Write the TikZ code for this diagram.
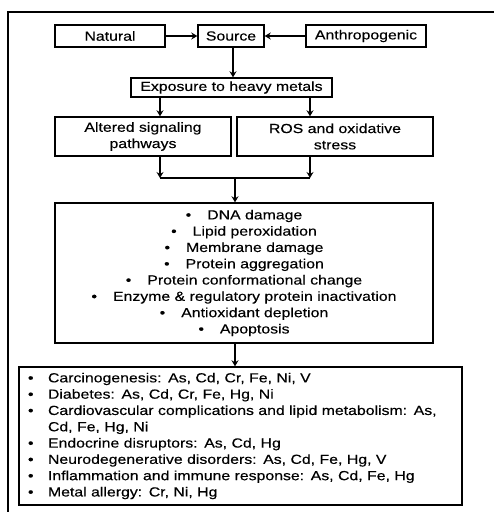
\documentclass[tikz,border=0pt]{standalone}
\usepackage{fontspec}
\setmainfont{Liberation Sans}[FakeStretch=1.2,FakeBold=0.3]
\usetikzlibrary{arrows.meta}
\begin{document}
\begin{tikzpicture}[x=1pt,y=-1pt,
  box/.style={draw=black,line width=1.4pt,inner sep=0pt,align=center,
    font=\fontsize{13.2}{16.3}\selectfont},
  arr/.style={line width=1.4pt,-{Stealth[length=6pt,width=7pt,inset=2pt]}},
  ln/.style={line width=1.4pt}]
\useasboundingbox (0,0) rectangle (494,512);
\draw[line width=1.6pt] (8,512) -- (8,12) -- (494,12);
\node[box,minimum width=110,minimum height=22] (nat) at (110,36) {Natural};
\node[box,minimum width=66,minimum height=22] (src) at (231,36) {Source};
\node[box,minimum width=120,minimum height=22] (ant) at (366,36) {Anthropogenic};
\node[box,minimum width=201,minimum height=19] (exp) at (231.5,87.5) {Exposure to heavy metals};
\node[box,minimum width=176,minimum height=39] (alt) at (143,136.5) {Altered signaling\\pathways};
\node[box,minimum width=196,minimum height=39] (ros) at (335,136.5) {ROS and oxidative\\stress};
\node[box,minimum width=378,minimum height=140,text width=358] (mid) at (244,273) {%
\textbullet\hspace{16pt}DNA damage\\
\textbullet\hspace{16pt}Lipid peroxidation\\
\textbullet\hspace{16pt}Membrane damage\\
\textbullet\hspace{16pt}Protein aggregation\\
\textbullet\hspace{16pt}Protein conformational change\\
\textbullet\hspace{16pt}Enzyme \& regulatory protein inactivation\\
\textbullet\hspace{16pt}Antioxidant depletion\\
\textbullet\hspace{16pt}Apoptosis};
\node[box,minimum width=443,minimum height=138,text width=425,align=left,inner xsep=9pt] (bot) at (240.5,436) {%
\makebox[20pt][l]{\textbullet}Carcinogenesis: As, Cd, Cr, Fe, Ni, V\\
\makebox[20pt][l]{\textbullet}Diabetes: As, Cd, Cr, Fe, Hg, Ni\\
\makebox[20pt][l]{\textbullet}Cardiovascular complications and lipid metabolism: As,\\
\hspace*{20pt}Cd, Fe, Hg, Ni\\
\makebox[20pt][l]{\textbullet}Endocrine disruptors: As, Cd, Hg\\
\makebox[20pt][l]{\textbullet}Neurodegenerative disorders: As, Cd, Fe, Hg, V\\
\makebox[20pt][l]{\textbullet}Inflammation and immune response: As, Cd, Fe, Hg\\
\makebox[20pt][l]{\textbullet}Metal allergy: Cr, Ni, Hg};
\coordinate (jl) at (160,178);
\coordinate (jr) at (310,178);
\coordinate (jm) at (235,178);
\draw[arr] (nat) -- (src);
\draw[arr] (ant) -- (src);
\draw[arr] (src.south -| 233,0) -- (exp.north -| 233,0);
\draw[arr] (exp.south -| jl) -- (alt.north -| jl);
\draw[arr] (exp.south -| jr) -- (ros.north -| jr);
\draw[arr] (alt.south -| jl) -- (jl);
\draw[arr] (ros.south -| jr) -- (jr);
\draw[ln] (jl) -- (jr);
\draw[arr] (jm) -- (mid.north -| jm);
\draw[arr] (mid.south -| jm) -- (bot.north -| jm);
\end{tikzpicture}
\end{document}
